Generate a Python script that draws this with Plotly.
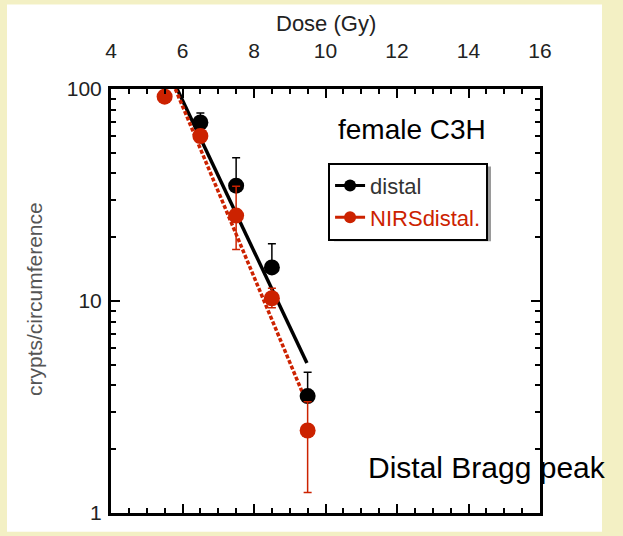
import plotly.graph_objects as go

# ---- data ----
dose_distal = [6.5, 7.5, 8.5, 9.5]
crypts_distal = [69.5, 35.0, 14.4, 3.56]
err_distal_plus = [7.5, 12.4, 4.2, 1.05]

dose_nirs = [5.5, 6.5, 7.5, 8.5, 9.5]
crypts_nirs = [92.0, 60.0, 25.3, 10.3, 2.45]
err_nirs_plus = [0, 0, 9.5, 1.2, 0.9]
err_nirs_minus = [0, 0, 7.8, 1.0, 1.2]

fit_distal_x = [5.85, 9.48]
fit_distal_y = [100, 5.1]
fit_nirs_x = [5.8, 9.34]
fit_nirs_y = [100, 3.75]

x_ticks = [4, 6, 8, 10, 12, 14, 16]
y_ticks = [1, 10, 100]
y_minor = [2, 3, 4, 5, 6, 7, 8, 9, 20, 30, 40, 50, 60, 70, 80, 90]

BLACK = "#000000"
RED = "#cc2200"
FONT = "Liberation Sans, Arial, sans-serif"

fig = go.Figure()

# fitted lines
fig.add_trace(go.Scatter(x=fit_distal_x, y=fit_distal_y, mode="lines",
                         line=dict(color=BLACK, width=3.5), showlegend=False,
                         hoverinfo="skip"))
fig.add_trace(go.Scatter(x=fit_nirs_x, y=fit_nirs_y, mode="lines",
                         line=dict(color=RED, width=3.5, dash="4px,2px"),
                         showlegend=False, hoverinfo="skip"))

# data points
fig.add_trace(go.Scatter(x=dose_distal, y=crypts_distal, mode="markers",
                         marker=dict(color=BLACK, size=16),
                         error_y=dict(type="data", symmetric=False,
                                      array=err_distal_plus,
                                      arrayminus=[0] * len(err_distal_plus),
                                      color=BLACK, thickness=1.5, width=4),
                         showlegend=False))
fig.add_trace(go.Scatter(x=dose_nirs, y=crypts_nirs, mode="markers",
                         marker=dict(color=RED, size=16),
                         error_y=dict(type="data", symmetric=False,
                                      array=err_nirs_plus,
                                      arrayminus=err_nirs_minus,
                                      color=RED, thickness=1.5, width=4),
                         showlegend=False))

# legend entries
fig.add_trace(go.Scatter(x=[None], y=[None], mode="lines+markers", name="distal",
                         line=dict(color=BLACK, width=3), marker=dict(color=BLACK, size=12)))
fig.add_trace(go.Scatter(x=[None], y=[None], mode="lines+markers",
                         name="<span style='color:#cc2200'>NIRSdistal.</span>",
                         line=dict(color=RED, width=3), marker=dict(color=RED, size=12)))

axis_common = dict(showline=True, linecolor=BLACK, linewidth=3, mirror="ticks",
                   ticks="inside", ticklen=9, tickwidth=2, tickcolor=BLACK,
                   showgrid=False, zeroline=False,
                   tickfont=dict(family=FONT, size=21, color="#222222"))

fig.update_layout(
    width=623, height=536,
    margin=dict(l=111, r=83, t=89, b=15),
    paper_bgcolor="#f3f0c4",
    plot_bgcolor="white",
    showlegend=True,
    legend=dict(x=0.506, y=0.826, xanchor="left", yanchor="top",
                bgcolor="white", bordercolor=BLACK, borderwidth=2,
                font=dict(family=FONT, size=22, color="#333333"),
                tracegroupgap=0, itemwidth=30),
    xaxis=dict(axis_common, side="top", range=[4, 16], tickvals=x_ticks,
               ticklabelstandoff=20,
               minor=dict(dtick=0.5, tick0=4, ticks="inside", ticklen=5,
                          tickwidth=2, tickcolor=BLACK, showgrid=False)),
    yaxis=dict(axis_common, type="log", range=[0, 2], tickvals=y_ticks,
               ticktext=["1", "10", "100"], ticklabelstandoff=2,
               minor=dict(tickmode="array", tickvals=y_minor, ticks="inside",
                          ticklen=5, tickwidth=2, tickcolor=BLACK, showgrid=False)),
    shapes=[
        dict(type="rect", xref="paper", yref="paper", layer="below",
             x0=(7 - 111) / 429, x1=(602 - 111) / 429,
             y0=(521 - 540) / 432, y1=(521 - 3) / 432,
             fillcolor="white", line=dict(width=0)),
        dict(type="rect", xref="paper", yref="paper", layer="below",
             x0=(334 - 111) / 429, x1=(491 - 111) / 429,
             y0=(521 - 244) / 432, y1=(521 - 168) / 432,
             fillcolor="#9a9a9a", line=dict(width=0)),
    ],
    annotations=[
        dict(text="Dose (Gy)", xref="paper", yref="paper", x=0.5, y=(521 - 22) / 432,
             xanchor="center", yanchor="middle",
             showarrow=False, font=dict(family=FONT, size=22, color="#222222")),
        dict(text="crypts/circumference", xref="paper", yref="paper",
             x=(34 - 111) / 429, y=(521 - 303) / 432, textangle=-90,
             xanchor="center", yanchor="middle",
             showarrow=False, font=dict(family=FONT, size=21, color="#555555")),
        dict(text="female C3H", xref="paper", yref="paper",
             x=(412 - 111) / 429, y=(521 - 130) / 432,
             xanchor="center", yanchor="middle",
             showarrow=False, font=dict(family=FONT, size=28, color=BLACK)),
        dict(text="Distal Bragg peak", xref="paper", yref="paper",
             x=(487 - 111) / 429, y=(521 - 475) / 432,
             xanchor="center", yanchor="middle",
             showarrow=False, font=dict(family=FONT, size=30, color=BLACK)),
    ],
)

fig.write_html("out.html")
